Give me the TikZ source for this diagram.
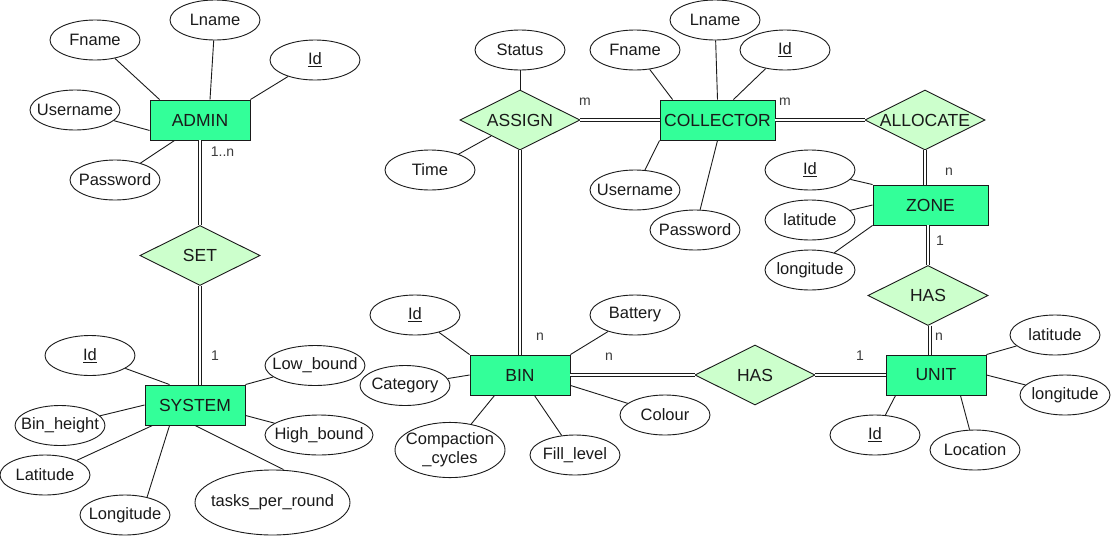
\documentclass[tikz,border=0pt]{standalone}
\usepackage{fontspec}
\setmainfont{Liberation Sans}
\usetikzlibrary{shapes.geometric,calc}
\definecolor{entfill}{RGB}{51,255,153}
\definecolor{relfill}{RGB}{204,255,204}
\definecolor{ink}{RGB}{26,26,26}
\newcommand\ztxt[1]{\makebox[0pt]{#1}}
\begin{document}
\begin{tikzpicture}[x=1pt,y=-1pt,
  every node/.style={text=ink},
  entity/.style={draw=ink, fill=entfill, rectangle, minimum width=100pt, minimum height=40pt, inner sep=0pt, line width=0.9pt, font=\fontsize{17.5}{21}\selectfont},
  rel/.style={draw=ink, fill=relfill, diamond, minimum width=120pt, minimum height=60pt, inner sep=0pt, line width=0.9pt, font=\fontsize{17.5}{21}\selectfont},
  attr/.style={draw=ink, fill=white, ellipse, minimum width=90pt, minimum height=40pt, inner sep=0pt, line width=0.9pt, font=\fontsize{16.5}{19.5}\selectfont},
  card/.style={inner sep=0pt, font=\fontsize{14}{16}\selectfont, text=ink!85},
  link/.style={draw=ink, line width=0.9pt},
  dbl/.style={draw=ink, line width=0.8pt, double distance=1.6pt},
]
\useasboundingbox (0,0) rectangle (1111,536);

% ---------- entities ----------
\node[entity] (ADMIN) at (200,120) {ADMIN};
\node[entity] (SYSTEM) at (195,405) {SYSTEM};
\node[entity, minimum width=115pt] (COLLECTOR) at (717.5,120) {\ztxt{COLLECTOR}};
\node[entity, minimum width=115pt] (ZONE) at (930.5,205) {ZONE};
\node[entity] (BIN) at (520,375) {BIN};
\node[entity] (UNIT) at (936,375) {UNIT};

% ---------- relationships ----------
\node[rel] (SET) at (200,255.5) {\ztxt{SET}};
\node[rel] (ASSIGN) at (520,120) {\ztxt{ASSIGN}};
\node[rel] (ALLOCATE) at (925,120) {\ztxt{ALLOCATE}};
\node[rel] (HASzu) at (928,295.5) {\ztxt{HAS}};
\node[rel] (HASbu) at (755,375) {\ztxt{HAS}};

% ---------- attributes: ADMIN ----------
\node[attr] (Afn) at (95,40) {\ztxt{Fname}};
\node[attr] (Aln) at (215,20) {\ztxt{Lname}};
\node[attr] (Aid) at (315,60) {\ztxt{\underline{Id}}};
\node[attr] (Aun) at (75,110) {\ztxt{Username}};
\node[attr] (Apw) at (115,180) {\ztxt{Password}};

% ---------- attributes: SYSTEM ----------
\node[attr] (Sid) at (90,355.5) {\ztxt{\underline{Id}}};
\node[attr, minimum width=100pt] (Slb) at (315,365.5) {\ztxt{Low\_bound}};
\node[attr] (Sbh) at (60,425.5) {\ztxt{Bin\_height}};
\node[attr, minimum width=108pt] (Shb) at (319,435) {\ztxt{High\_bound}};
\node[attr] (Slat) at (45,475) {\ztxt{Latitude}};
\node[attr] (Slon) at (125,515) {\ztxt{Longitude}};
\node[attr, minimum width=155pt, minimum height=65pt] (Stpr) at (272.5,502.5) {\ztxt{tasks\_per\_round}};

% ---------- attributes: ASSIGN ----------
\node[attr] (Rst) at (520,50) {\ztxt{Status}};
\node[attr] (Rtm) at (430,170) {\ztxt{Time}};

% ---------- attributes: COLLECTOR ----------
\node[attr] (Cfn) at (635,50) {\ztxt{Fname}};
\node[attr] (Cln) at (715,20) {\ztxt{Lname}};
\node[attr] (Cid) at (785,50) {\ztxt{\underline{Id}}};
\node[attr] (Cun) at (635,190) {\ztxt{Username}};
\node[attr] (Cpw) at (695,230) {\ztxt{Password}};

% ---------- attributes: ZONE ----------
\node[attr] (Zid) at (810,170) {\ztxt{\underline{Id}}};
\node[attr] (Zlat) at (810,220) {\ztxt{latitude}};
\node[attr] (Zlon) at (810,270) {\ztxt{longitude}};

% ---------- attributes: BIN ----------
\node[attr] (Bid) at (415,315) {\ztxt{\underline{Id}}};
\node[attr] (Bbat) at (635,315) {\ztxt{Battery}};
\node[attr] (Bcat) at (405,385.5) {\ztxt{Category}};
\node[attr] (Bcol) at (665,415) {\ztxt{Colour}};
\node[attr, minimum width=110pt, minimum height=50pt] (Bcc) at (450,450) {\ztxt{\begin{tabular}{@{}c@{}}Compaction\\\_cycles\end{tabular}}};
\node[attr] (Bfl) at (575,455) {\ztxt{Fill\_level}};

% ---------- attributes: UNIT ----------
\node[attr] (Ulat) at (1055,335) {\ztxt{latitude}};
\node[attr] (Ulon) at (1065,395) {\ztxt{longitude}};
\node[attr] (Uid) at (875,435) {\ztxt{\underline{Id}}};
\node[attr] (Uloc) at (975,450) {\ztxt{Location}};

% ---------- attribute links ----------
\draw[link] (Afn) -- ([xshift=10pt]ADMIN.north west);
\draw[link] (Aln) -- ([xshift=10pt]ADMIN.north);
\draw[link] (Aid) -- (ADMIN.north east);
\draw[link] (Aun) -- ([yshift=10pt]ADMIN.south west);
\draw[link] (Apw) -- ([xshift=25pt]ADMIN.south west);

\draw[link] (Sid) -- ([xshift=25pt]SYSTEM.north west);
\draw[link] (Slb) -- (SYSTEM.north east);
\draw[link] (Sbh) -- (SYSTEM.west);
\draw[link] (Shb) -- ([yshift=10pt]SYSTEM.south east);
\draw[link] (Slat) -- ([xshift=8pt]SYSTEM.south west);
\draw[link] (Slon.39) -- ([xshift=25pt]SYSTEM.south west);
\draw[link] ([xshift=11pt]Stpr.north) -- (SYSTEM.south);

\draw[link] (Rst) -- (ASSIGN);
\draw[link] (Rtm) -- (ASSIGN);

\draw[link] (Cfn) -- ([xshift=13pt]COLLECTOR.north west);
\draw[link] (Cln) -- (COLLECTOR.north);
\draw[link] (Cid) -- ([xshift=-42pt]COLLECTOR.north east);
\draw[link] (Cun) -- (COLLECTOR.south west);
\draw[link] (Cpw) -- (COLLECTOR.south);

\draw[link] (Zid) -- (ZONE.north west);
\draw[link] (Zlat) -- (ZONE.west);
\draw[link] (Zlon) -- (ZONE.south west);

\draw[link] (Bid) -- (BIN.north west);
\draw[link] (Bbat) -- (BIN.north east);
\draw[link] (Bcat) -- (BIN.west);
\draw[link] (Bcc) -- ([xshift=25pt]BIN.south west);
\draw[link] (Bfl) -- ([xshift=-36pt]BIN.south east);
\draw[link] (Bcol) -- ([yshift=10pt]BIN.south east);

\draw[link] (Ulat) -- (UNIT.north east);
\draw[link] (Ulon) -- (UNIT.east);
\draw[link] (Uid) -- ([xshift=10pt]UNIT.south west);
\draw[link] (Uloc) -- ([xshift=-26pt]UNIT.south east);

% ---------- relationship links (double) ----------
\draw[dbl] (ADMIN.south) -- (SET.north);
\draw[dbl] (SET.south) -- (SET.south |- SYSTEM.north);
\draw[dbl] (ASSIGN.east) -- (COLLECTOR.west);
\draw[dbl] (ASSIGN.south) -- (ASSIGN.south |- BIN.north);
\draw[dbl] (COLLECTOR.east) -- (ALLOCATE.west);
\draw[dbl] (ALLOCATE.south) -- (ALLOCATE.south |- ZONE.north);
\draw[dbl] (HASzu.north |- ZONE.south) -- (HASzu.north);
\draw[dbl] ([xshift=2pt]HASzu.south) -- ([xshift=2pt]HASzu.south |- UNIT.north);
\draw[dbl] (BIN.east) -- (HASbu.west);
\draw[dbl] (HASbu.east) -- (UNIT.west);

% ---------- cardinalities ----------
\node[card] (k1) at (222.5,152) {1..n};
\node[card] (k2) at (215,356) {1};
\node[card] (k3) at (585,102) {m};
\node[card] (k4) at (785,102) {m};
\node[card] (k5) at (949,172) {n};
\node[card] (k6) at (940,241) {1};
\node[card] (k7) at (939,337) {n};
\node[card] (k8) at (540,337) {n};
\node[card] (k9) at (609,357) {n};
\node[card] (k10) at (860,356) {1};
\end{tikzpicture}
\end{document}
